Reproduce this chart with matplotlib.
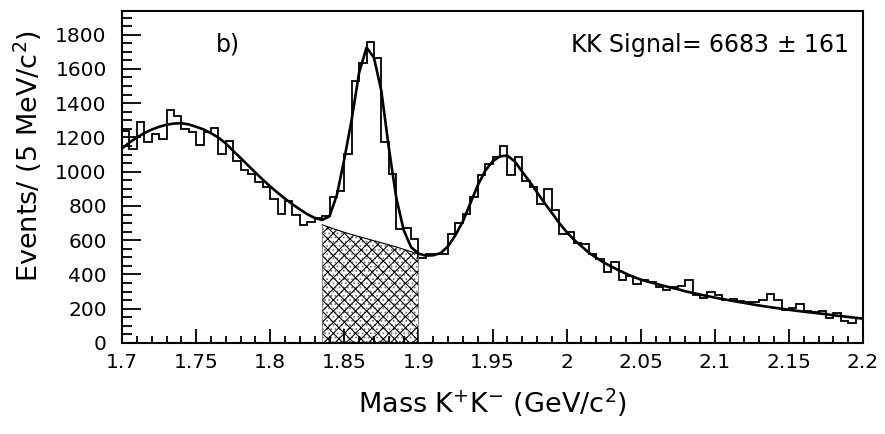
import numpy as np
import matplotlib
matplotlib.use('Agg')
import matplotlib.pyplot as plt
from matplotlib.ticker import MultipleLocator, FuncFormatter

# K+K- invariant mass, 5 MeV bins from 1.70 to 2.20 GeV
bin_edges = np.round(np.arange(1.700, 2.2001, 0.005), 3)
counts = [
    1239, 1132, 1291, 1171, 1219, 1190, 1361, 1326, 1252, 1233,
    1156, 1233, 1254, 1105, 1178, 1060, 1010, 985, 940, 912,
    842, 755, 826, 745, 691, 707, 730, 741, 854, 890,
    1105, 1529, 1636, 1756, 1665, 1171, 987, 668, 672, 606,
    498, 517, 517, 517, 639, 703, 755, 852, 978, 1045,
    1084, 1148, 978, 1084, 948, 910, 813, 900, 778, 635,
    649, 581, 575, 519, 490, 412, 472, 368, 390, 344,
    368, 354, 329, 310, 329, 335, 368, 278, 261, 296,
    281, 252, 257, 248, 242, 238, 252, 285, 252, 194,
    203, 226, 188, 180, 188, 145, 174, 130, 116, 145,
]

# fitted total function, sampled at the bin edges
fit_total = [
    1136, 1170, 1200, 1225, 1246, 1262, 1274, 1281, 1283, 1276,
    1262, 1247, 1225, 1199, 1165, 1122, 1080, 1037, 995, 953,
    914, 877, 842, 810, 780, 752, 730, 718, 740, 865,
    1075, 1307, 1580, 1725, 1665, 1470, 1140, 850, 660, 560,
    522, 510, 512, 525, 565, 630, 710, 815, 920, 1005,
    1060, 1090, 1094, 1060, 1000, 942, 880, 818, 760, 700,
    648, 602, 565, 527, 498, 470, 447, 425, 405, 386,
    370, 358, 346, 335, 324, 314, 302, 292, 283, 274,
    265, 257, 249, 241, 234, 226, 219, 212, 206, 200,
    194, 188, 183, 178, 173, 168, 162, 157, 152, 147,
    142,
]

# background under the signal window
bkg_mass = [1.835, 1.840, 1.845, 1.850, 1.855, 1.860, 1.865,
            1.870, 1.875, 1.880, 1.885, 1.890, 1.895, 1.900]
bkg_fit = [690, 675, 660, 646, 633, 621, 609,
           597, 585, 573, 561, 547, 533, 518]

signal_text = 'KK Signal= 6683 $\\pm$ 161'

plt.rcParams['font.family'] = ['DejaVu Sans']
plt.rcParams['mathtext.default'] = 'regular'
plt.rcParams['hatch.linewidth'] = 0.75

fig = plt.figure(figsize=(8.85, 4.34), dpi=100)
ax = fig.add_axes([0.1379, 0.2097, 0.8373, 0.7657])

# hatched signal region: crosshatch plus light stipple
ax.fill_between(bkg_mass, 0, bkg_fit, facecolor='none', edgecolor='0.45',
                hatch='....', linewidth=0)
ax.fill_between(bkg_mass, 0, bkg_fit, facecolor='none', edgecolor='black',
                hatch='xxx', linewidth=0)
ax.plot(bkg_mass, bkg_fit, color='black', linewidth=0.8)
ax.vlines([bkg_mass[0], bkg_mass[-1]], 0, [bkg_fit[0], bkg_fit[-1]],
          color='0.4', linewidth=0.5)

ax.stairs(counts, bin_edges, color='black', linewidth=1.3)
ax.plot(bin_edges, fit_total, color='black', linewidth=1.9)

ax.set_xlim(1.7, 2.2)
ax.set_ylim(0, 1940)

ax.xaxis.set_major_locator(MultipleLocator(0.05))
ax.xaxis.set_minor_locator(MultipleLocator(0.01))
ax.yaxis.set_major_locator(MultipleLocator(200))
ax.yaxis.set_minor_locator(MultipleLocator(50))
ax.xaxis.set_major_formatter(
    FuncFormatter(lambda v, p: ('%.2f' % v).rstrip('0').rstrip('.')))

ax.tick_params(axis='both', which='both', direction='in', top=False, right=False,
               width=1.3, labelsize=14.5)
ax.tick_params(axis='x', which='major', length=10, pad=7)
ax.tick_params(axis='x', which='minor', length=5)
ax.tick_params(axis='y', which='major', length=14, pad=11)
ax.tick_params(axis='y', which='minor', length=7)

for sp in ax.spines.values():
    sp.set_linewidth(1.5)

ax.text(1.763, 1742, 'b)', fontsize=17, ha='left', va='center')
ax.text(2.19, 1742, signal_text, fontsize=17, ha='right', va='center')

fig.text(0.5565, 0.071, 'Mass K$^{+}$K$^{-}$ (GeV/c$^{2}$)', fontsize=19.5,
         ha='center', va='center')
fig.text(0.031, 0.64, 'Events/ (5 MeV/c$^{2}$)', fontsize=19.5,
         ha='center', va='center', rotation=90)

fig.savefig('out.png', dpi=100)
